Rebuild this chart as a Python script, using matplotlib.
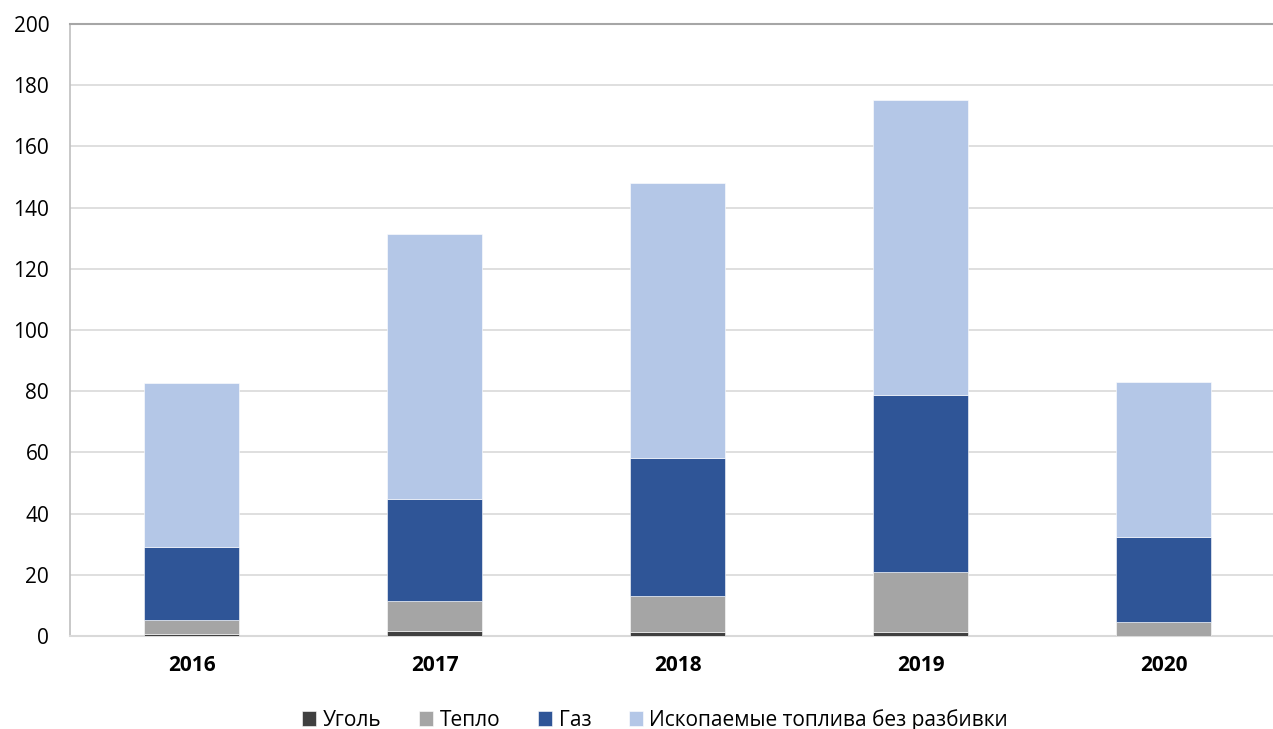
import matplotlib
matplotlib.use("Agg")
import matplotlib.pyplot as plt
import numpy as np

# Годы и значения по видам топлива
years = ["2016", "2017", "2018", "2019", "2020"]
coal = [0.8, 1.6, 1.4, 1.4, 0.0]
heat = [4.4, 9.9, 11.8, 19.4, 4.6]
gas = [23.9, 33.3, 45.1, 58.1, 27.8]
fossil_other = [53.7, 86.5, 89.7, 96.2, 50.7]

series_names = ["Уголь", "Тепло", "Газ", "Ископаемые топлива без разбивки"]
colors = ["#404040", "#A5A5A5", "#2F5597", "#B4C7E7"]

plt.rcParams["font.family"] = ["Open Sans", "DejaVu Sans"]

fig = plt.figure(figsize=(12.73, 7.29), dpi=100)
ax = fig.add_axes([70 / 1273, 93 / 729, 1 - 70 / 1273, 612 / 729])

x = np.arange(len(years))
bottom = np.zeros(len(years))
for name, vals, col in zip(series_names, [coal, heat, gas, fossil_other], colors):
    ax.bar(x, vals, width=0.395, bottom=bottom, color=col, label=name,
           edgecolor="white", linewidth=0.4, zorder=3)
    bottom += np.array(vals)

ax.set_xlim(-0.5, (1273 - 70) / 243 - 0.5)
ax.set_ylim(0, 200)
ax.set_yticks(range(0, 201, 20))
ax.set_xticks(x)
ax.set_xticklabels(years, fontweight="bold", fontsize=15)
ax.tick_params(axis="y", labelsize=15, length=0, pad=15)
ax.tick_params(axis="x", length=0, pad=14)

ax.grid(axis="y", color="#D9D9D9", linewidth=1.2, zorder=0)
ax.spines["right"].set_visible(False)
ax.spines["top"].set_color("#A6A6A6")
ax.spines["top"].set_linewidth(1.5)
ax.spines["left"].set_color("#BFBFBF")
ax.spines["left"].set_linewidth(1.2)
ax.spines["bottom"].set_color("#D9D9D9")
ax.spines["bottom"].set_linewidth(1.5)

fig.legend(loc="lower center", bbox_to_anchor=(655 / 1273, -0.028), ncol=4,
           frameon=False, fontsize=15, handlelength=0.7, handleheight=0.7,
           handletextpad=0.3, columnspacing=1.8)

fig.savefig("out.png", dpi=100)
